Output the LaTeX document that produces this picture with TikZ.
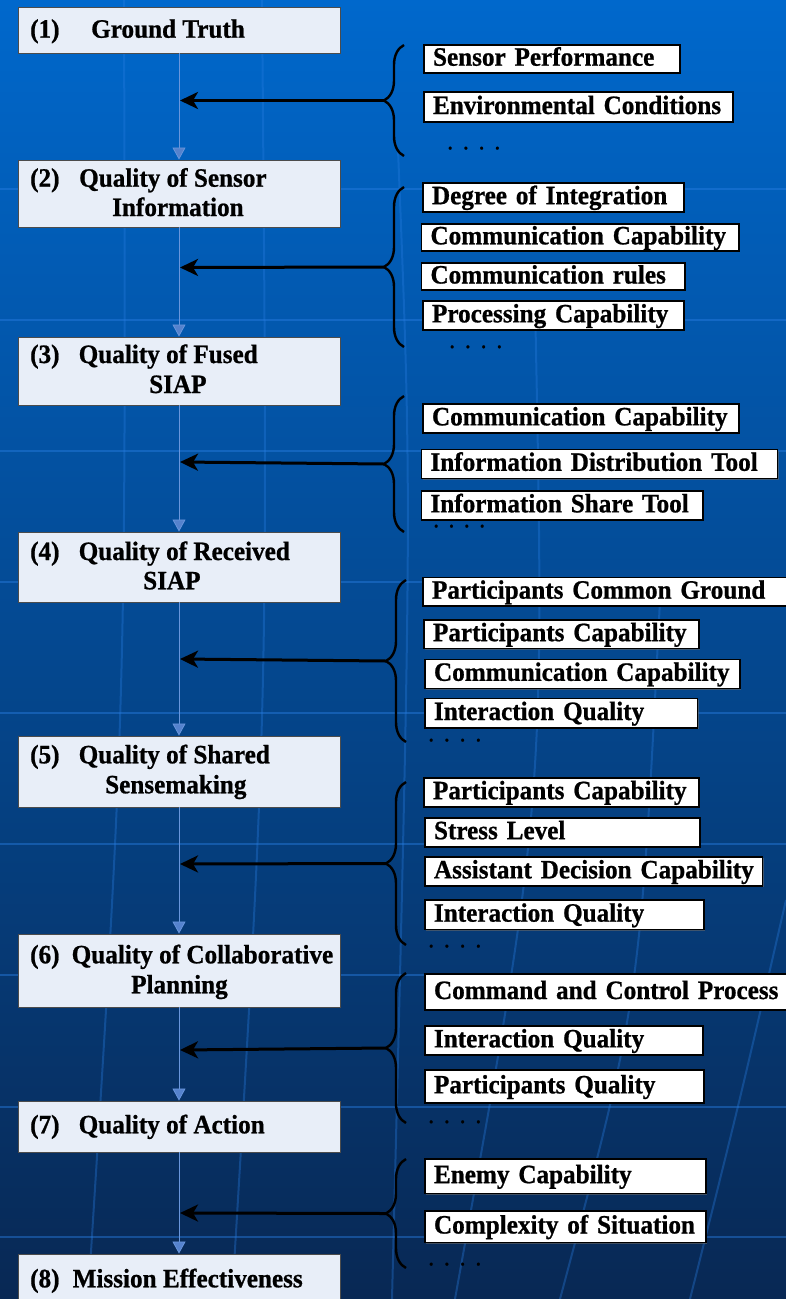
\documentclass[tikz,border=0pt]{standalone}
\usepackage{fontspec}
\setmainfont{Liberation Serif}[FakeStretch=0.95, FakeBold=0.8]
\usetikzlibrary{arrows.meta,decorations.pathreplacing,shadows}
\definecolor{bgtop}{RGB}{0,104,204}
\definecolor{bgmid}{RGB}{0,80,160}
\definecolor{bgbot}{RGB}{8,40,84}
\definecolor{gridc}{RGB}{40,125,225}
\definecolor{lboxfill}{RGB}{232,238,248}
\definecolor{flowc}{RGB}{105,150,220}
\definecolor{flowtip}{RGB}{85,130,205}
\newcommand\LB[3]{\pgfmathsetmacro\lbh{#3-#2}\node[lbox, minimum height=\lbh pt] (#1) at (179,{(#2+#3)/2}) {};}
\newcommand\RB[6]{\pgfmathsetmacro\rbw{#4-#2-18}\pgfmathsetmacro\rbh{#5-#3}\node[rbx, text width=\rbw pt, minimum height=\rbh pt] (#1) at ({(#2+#4)/2},{(#3+#5)/2}) {\mbox{#6}};}
\begin{document}
\begin{tikzpicture}[x=1pt,y=-1pt,
 every node/.style={font=\fontsize{26.5}{30}\selectfont\bfseries, text=black},
 lbox/.style={draw=black!70, line width=0.9pt, fill=lboxfill, minimum width=322pt, inner sep=0pt},
 rbx/.style={draw=black, line width=1.6pt, fill=white, inner xsep=9pt, inner ysep=0pt, text height=18.5pt, text depth=4.5pt, align=left, drop shadow={shadow xshift=1.2pt, shadow yshift=-1.2pt, fill=black!60, opacity=0.6}},
 ltxt/.style={anchor=base west, inner sep=0pt},
 flow/.style={draw=flowc, line width=0.8pt, -{Triangle[length=12pt,width=13pt,fill=flowtip]}},
 bar/.style={line width=3pt, -{Stealth[length=18pt,width=17pt,inset=5pt]}},
 brc/.style={line width=2.4pt, decorate, decoration={brace, amplitude=20pt}},
 dts/.style={anchor=base west, inner sep=0pt, font=\fontsize{25}{30}\selectfont}
]
\useasboundingbox (0,0) rectangle (786,1299);
\shade[top color=bgtop, middle color=bgmid, bottom color=bgbot] (0,0) rectangle (786,1299);
% faint background grid
\begin{scope}[draw=gridc, line width=2.5pt, opacity=0.45]
\foreach \yy in {189,320,451,582,713,844,975,1107,1237} {\draw (0,\yy) -- (786,\yy);}
\end{scope}
\begin{scope}[draw=gridc, line width=2pt, opacity=0.35]
\draw (124,0) .. controls (126,700) .. (88,1299);
\draw (262,0) .. controls (268,700) .. (232,1299);
\draw (398,150) .. controls (412,500) .. (392,1299);
\draw (535,300) .. controls (545,800) .. (455,1299);
\draw (660,600) .. controls (640,1000) .. (560,1299);
\draw (786,900) .. controls (740,1100) .. (690,1299);
\end{scope}

% left boxes
\LB{b1}{7}{53}
\LB{b2}{160}{227}
\LB{b3}{337}{405}
\LB{b4}{532}{602}
\LB{b5}{736}{807}
\LB{b6}{934}{1007}
\LB{b7}{1101}{1152}
\LB{b8}{1254}{1312}

\node[ltxt] (t1a) at (30,37.7) {(1)};
\node[ltxt] (t1b) at (91,37.7) {Ground Truth};
\node[ltxt] (t2a) at (30,186.7) {(2)};
\node[ltxt] (t2b) at (79,186.7) {Quality of Sensor};
\node[ltxt] (t2c) at (112,216) {Information};
\node[ltxt] (t3a) at (30,363) {(3)};
\node[ltxt] (t3b) at (78.5,363) {Quality of Fused};
\node[ltxt] (t3c) at (149,393) {SIAP};
\node[ltxt] (t4a) at (30,560) {(4)};
\node[ltxt] (t4b) at (78.5,560) {Quality of Received};
\node[ltxt] (t4c) at (143,589.3) {SIAP};
\node[ltxt] (t5a) at (30,763.3) {(5)};
\node[ltxt] (t5b) at (78.5,763.3) {Quality of Shared};
\node[ltxt] (t5c) at (105,793.3) {Sensemaking};
\node[ltxt] (t6a) at (30,963.3) {(6)};
\node[ltxt] (t6b) at (71.5,963.3) {Quality of Collaborative};
\node[ltxt] (t6c) at (131,993.3) {Planning};
\node[ltxt] (t7a) at (30,1133.3) {(7)};
\node[ltxt] (t7b) at (78.5,1133.3) {Quality of Action};
\node[ltxt] (t8a) at (30,1287.3) {(8)};
\node[ltxt] (t8b) at (72.5,1287.3) {Mission Effectiveness};

% flow connectors
\draw[flow] (b1.south) -- (b2.north);
\draw[flow] (b2.south) -- (b3.north);
\draw[flow] (b3.south) -- (b4.north);
\draw[flow] (b4.south) -- (b5.north);
\draw[flow] (b5.south) -- (b6.north);
\draw[flow] (b6.south) -- (b7.north);
\draw[flow] (b7.south) -- (b8.north);

% right boxes
\RB{r11}{424}{44.7}{680}{72.7}{Sensor Performance}
\RB{r12}{424}{92}{733}{122}{Environmental Conditions}
\RB{r21}{423}{182.7}{684}{211.7}{Degree of Integration}
\RB{r22}{421.5}{224}{739}{250.7}{Communication Capability}
\RB{r23}{421.5}{263}{685}{290}{Communication rules}
\RB{r24}{423}{300.7}{684}{330}{Processing Capability}
\RB{r31}{423}{404}{739}{432.7}{Communication Capability}
\RB{r32}{421.5}{449.3}{777.5}{478.3}{Information Distribution Tool}
\RB{r33}{421.5}{490.7}{703}{520}{Information Share Tool}
\RB{r41}{423}{577.3}{792}{606}{Participants Common Ground}
\RB{r42}{424}{620}{699}{648.3}{Participants Capability}
\RB{r43}{425}{659.3}{740}{688.3}{Communication Capability}
\RB{r44}{425}{698.3}{697.5}{727.7}{Interaction Quality}
\RB{r51}{424}{777.7}{699}{806.7}{Participants Capability}
\RB{r52}{425}{817.7}{700}{846.7}{Stress Level}
\RB{r53}{425}{856.7}{762.5}{886}{Assistant Decision Capability}
\RB{r54}{425}{900}{704}{929.3}{Interaction Quality}
\RB{r61}{425}{974}{794}{1010}{Command and Control Process}
\RB{r62}{425}{1025.7}{703}{1055}{Interaction Quality}
\RB{r63}{425}{1070}{704}{1102.7}{Participants Quality}
\RB{r71}{425}{1159}{706}{1193.3}{Enemy Capability}
\RB{r72}{425}{1210.7}{706}{1242.3}{Complexity of Situation}

% dots
\node[dts] (d1) at (447,149.3) {.\hspace{9.8pt}.\hspace{9.8pt}.\hspace{9.8pt}.};
\node[dts] (d2) at (449,348) {.\hspace{9.8pt}.\hspace{9.8pt}.\hspace{9.8pt}.};
\node[dts] (d3) at (433,527.3) {.\hspace{9.4pt}.\hspace{9.4pt}.\hspace{9.4pt}.};
\node[dts] (d4) at (428,741.3) {.\hspace{9.8pt}.\hspace{9.8pt}.\hspace{9.8pt}.};
\node[dts] (d5) at (428,947.3) {.\hspace{9.8pt}.\hspace{9.8pt}.\hspace{9.8pt}.};
\node[dts] (d6) at (428,1123) {.\hspace{9.8pt}.\hspace{9.8pt}.\hspace{9.8pt}.};
\node[dts] (d7) at (428,1265.3) {.\hspace{9.8pt}.\hspace{9.8pt}.\hspace{9.8pt}.};

% braces and arrows
\coordinate (g1t) at (404,45);     \coordinate (g1b) at (404,156);
\coordinate (g2t) at (404,187);    \coordinate (g2b) at (404,347);
\coordinate (g3t) at (404,396);    \coordinate (g3b) at (404,532);
\coordinate (g4t) at (406,580);    \coordinate (g4b) at (406,742);
\coordinate (g5t) at (406,782);    \coordinate (g5b) at (406,945);
\coordinate (g6t) at (406,973);    \coordinate (g6b) at (406,1123);
\coordinate (g7t) at (406,1159);   \coordinate (g7b) at (406,1268);
\foreach \g in {1,...,7} {\draw[brc] (g\g b) -- (g\g t);}

\coordinate (m1) at (384,100.5);  \coordinate (f1) at (180,100.5);
\coordinate (m2) at (384,267);    \coordinate (f2) at (180,267.5);
\coordinate (m3) at (384,464);    \coordinate (f3) at (180,462);
\coordinate (m4) at (386,661);    \coordinate (f4) at (180,659);
\coordinate (m5) at (386,863.5);  \coordinate (f5) at (180,864);
\coordinate (m6) at (386,1048);   \coordinate (f6) at (180,1050);
\coordinate (m7) at (386,1213.5); \coordinate (f7) at (180,1213);
\foreach \g in {1,...,7} {\draw[bar] (m\g) -- (f\g);}
\end{tikzpicture}
\end{document}
